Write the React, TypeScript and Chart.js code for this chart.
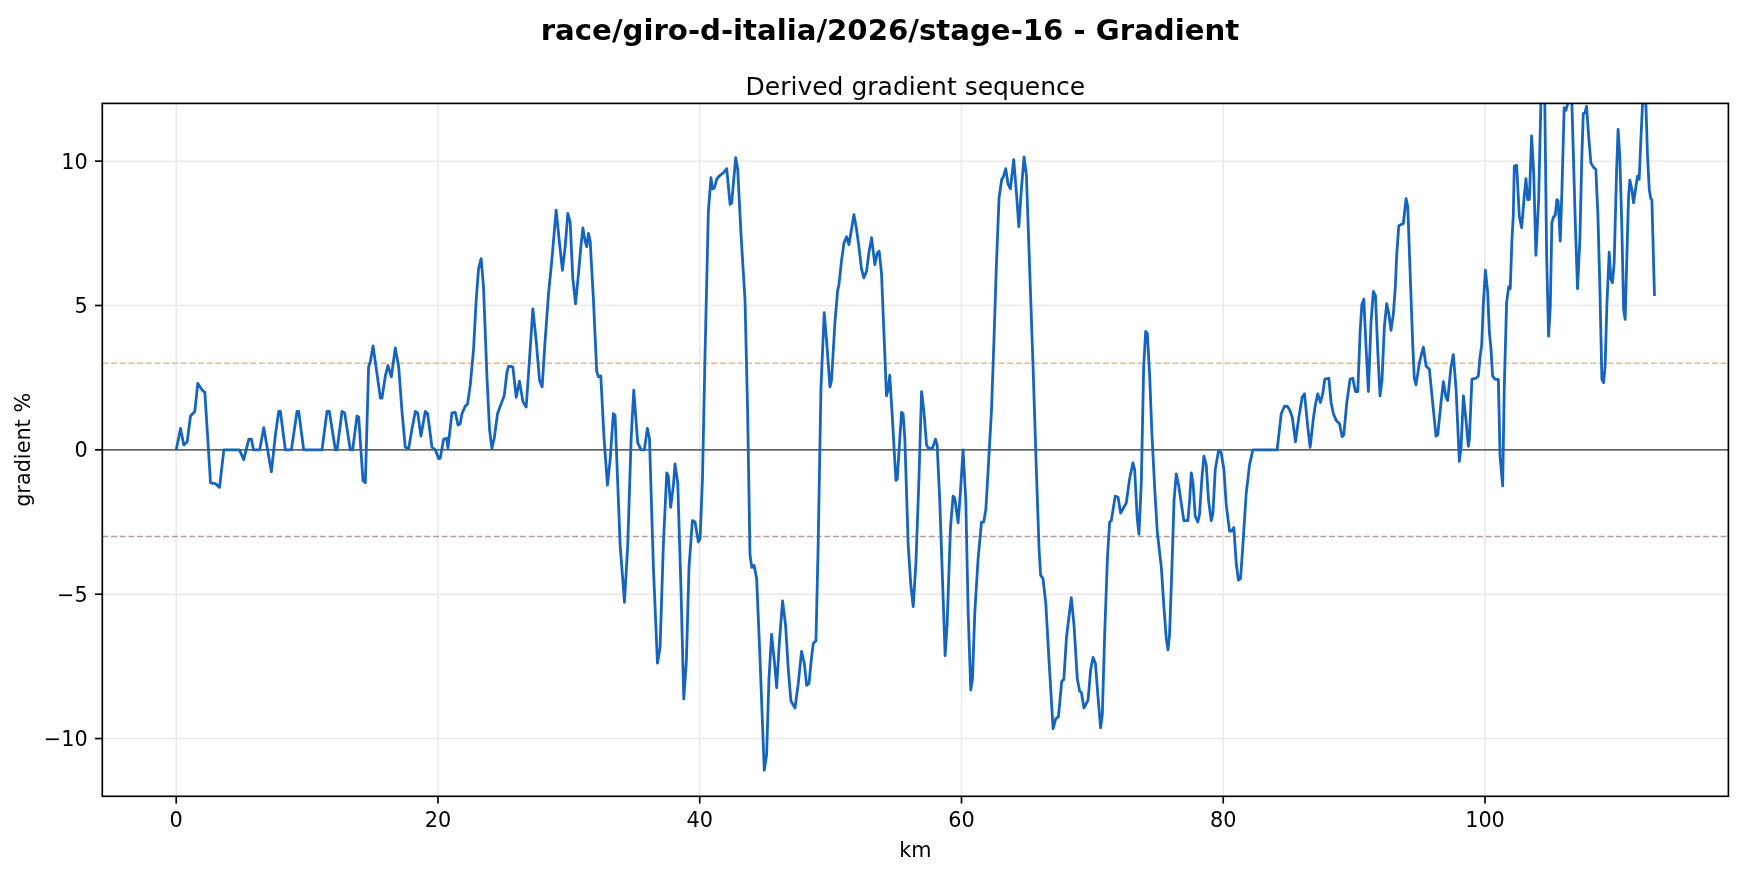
import React, { useEffect, useRef } from "react";
import { Chart, registerables } from "chart.js";

Chart.register(...registerables);

const SUPTITLE = "race/giro-d-italia/2026/stage-16 - Gradient";
const SUBTITLE = "Derived gradient sequence";
const X_LABEL = "km";
const Y_LABEL = "gradient %";

const kmValues = [
  0.0, 0.33, 0.58, 0.84, 1.09, 1.42, 1.65, 1.98, 2.19, 2.62, 3.0, 3.31, 3.64, 4.83, 5.16, 5.55, 5.75, 5.9, 6.38, 6.69,
  7.27, 7.58, 7.83, 7.96, 8.34, 8.8, 9.23, 9.36, 9.74, 11.14, 11.52, 11.7, 12.16, 12.29, 12.67, 12.87, 13.3, 13.48, 13.81, 13.94,
  14.27, 14.45, 14.7, 14.83, 15.04, 15.27, 15.6, 15.72, 15.98, 16.18, 16.44, 16.74, 17.0, 17.25, 17.5, 17.76, 18.01, 18.27, 18.45, 18.7,
  19.03, 19.21, 19.54, 19.8, 20.05, 20.17, 20.43, 20.68, 20.76, 21.07, 21.32, 21.53, 21.7, 21.83, 22.08, 22.26, 22.47, 22.72, 22.92, 23.1,
  23.3, 23.48, 23.74, 23.94, 24.12, 24.3, 24.55, 24.8, 25.06, 25.27, 25.4, 25.72, 25.98, 26.23, 26.49, 26.74, 27.0, 27.25, 27.5, 27.76,
  27.96, 28.19, 28.45, 28.7, 29.03, 29.28, 29.51, 29.72, 29.92, 30.1, 30.3, 30.51, 30.74, 30.92, 31.07, 31.25, 31.37, 31.5, 31.63, 31.88,
  32.13, 32.26, 32.44, 32.69, 32.95, 33.15, 33.4, 33.53, 33.92, 34.25, 34.5, 34.76, 34.96, 35.26, 35.52, 35.77, 36.0, 36.16, 36.46, 36.77,
  36.97, 37.22, 37.48, 37.6, 37.78, 37.99, 38.11, 38.32, 38.57, 38.78, 38.98, 39.18, 39.44, 39.64, 39.9, 40.03, 40.21, 40.4, 40.66, 40.86,
  40.97, 41.12, 41.3, 41.55, 41.73, 41.88, 42.06, 42.32, 42.44, 42.75, 42.9, 43.15, 43.46, 43.66, 43.84, 43.97, 44.15, 44.35, 44.6, 44.93,
  45.11, 45.29, 45.49, 45.7, 45.88, 46.08, 46.33, 46.56, 46.77, 46.97, 47.28, 47.53, 47.78, 47.99, 48.17, 48.35, 48.55, 48.68, 48.88, 49.05,
  49.26, 49.51, 49.69, 49.95, 50.07, 50.33, 50.53, 50.64, 50.84, 51.02, 51.22, 51.4, 51.6, 51.78, 51.98, 52.16, 52.36, 52.54, 52.75, 52.92,
  53.13, 53.38, 53.56, 53.71, 53.89, 54.07, 54.27, 54.4, 54.52, 54.73, 54.99, 55.09, 55.29, 55.42, 55.54, 55.67, 55.93, 56.13, 56.31, 56.52,
  56.75, 56.95, 57.13, 57.33, 57.46, 57.79, 58.01, 58.14, 58.34, 58.6, 58.75, 58.9, 59.16, 59.36, 59.49, 59.74, 59.92, 60.12, 60.33, 60.51,
  60.71, 60.84, 61.02, 61.27, 61.53, 61.7, 61.86, 62.04, 62.29, 62.47, 62.67, 62.87, 63.08, 63.18, 63.38, 63.56, 63.74, 63.99, 64.2, 64.38,
  64.58, 64.78, 64.96, 65.21, 65.47, 65.72, 65.93, 66.05, 66.23, 66.44, 66.69, 67.0, 67.2, 67.41, 67.66, 67.82, 68.02, 68.39, 68.6, 68.85,
  69.03, 69.16, 69.36, 69.54, 69.67, 69.87, 70.05, 70.23, 70.43, 70.63, 70.76, 70.94, 71.15, 71.32, 71.45, 71.58, 71.75, 71.96, 72.16, 72.34,
  72.59, 72.85, 73.1, 73.23, 73.43, 73.56, 73.74, 73.92, 74.07, 74.2, 74.38, 74.55, 74.76, 74.96, 75.27, 75.47, 75.65, 75.78, 75.9, 76.08,
  76.24, 76.41, 76.59, 76.79, 76.99, 77.3, 77.43, 77.56, 77.69, 77.86, 78.06, 78.19, 78.37, 78.52, 78.7, 78.88, 79.08, 79.21, 79.39, 79.64,
  79.84, 80.05, 80.23, 80.48, 80.66, 80.81, 80.99, 81.16, 81.32, 81.5, 81.75, 82.01, 82.26, 84.12, 84.43, 84.68, 84.89, 85.06, 85.27, 85.52,
  85.78, 86.03, 86.21, 86.46, 86.64, 86.9, 87.05, 87.22, 87.43, 87.6, 87.76, 88.07, 88.24, 88.42, 88.63, 88.88, 89.08, 89.21, 89.44, 89.69,
  89.9, 90.1, 90.28, 90.46, 90.59, 90.74, 90.92, 91.09, 91.29, 91.47, 91.63, 91.8, 91.98, 92.13, 92.31, 92.49, 92.64, 92.82, 93.0, 93.15,
  93.25, 93.41, 93.76, 93.97, 94.1, 94.27, 94.48, 94.6, 94.73, 94.99, 95.14, 95.29, 95.5, 95.75, 96.0, 96.26, 96.39, 96.64, 96.82, 97.02,
  97.15, 97.4, 97.58, 97.79, 98.04, 98.17, 98.35, 98.55, 98.73, 98.81, 99.0, 99.31, 99.49, 99.62, 99.75, 99.87, 100.03, 100.2, 100.33, 100.46,
  100.58, 100.76, 101.02, 101.15, 101.35, 101.47, 101.65, 101.81, 101.93, 102.06, 102.16, 102.24, 102.42, 102.62, 102.8, 103.0, 103.13, 103.26, 103.39, 103.56,
  103.72, 103.89, 104.1, 104.27, 104.42, 104.57, 104.71, 104.86, 104.99, 105.11, 105.24, 105.37, 105.49, 105.59, 105.75, 105.88, 106.05, 106.18, 106.3, 106.45,
  106.64, 106.9, 107.07, 107.25, 107.4, 107.51, 107.64, 107.76, 107.92, 108.09, 108.27, 108.47, 108.63, 108.78, 108.93, 109.06, 109.18, 109.31, 109.49, 109.62,
  109.74, 109.87, 110.05, 110.17, 110.3, 110.46, 110.59, 110.71, 110.84, 110.97, 111.07, 111.22, 111.35, 111.52, 111.65, 111.78, 111.91, 112.04, 112.16, 112.29,
  112.42, 112.55, 112.67, 112.75, 112.95,
];

const gradientValues = [
  0, 0.74, 0.17, 0.28, 1.17, 1.33, 2.3, 2.07, 1.99, -1.14, -1.17, -1.3, 0, 0, -0.34, 0.37, 0.37, 0, 0, 0.77,
  -0.76, 0.52, 1.33, 1.33, 0, 0, 1.33, 1.33, 0, 0, 1.33, 1.33, 0, 0, 1.33, 1.28, 0, 0, 1.17, 1.14,
  -1.06, -1.14, 2.87, 3.05, 3.6, 2.87, 1.79, 1.79, 2.56, 2.92, 2.53, 3.53, 2.87, 1.33, 0.09, 0.05, 0.71, 1.33, 1.28, 0.48,
  1.33, 1.25, 0.09, 0, -0.31, -0.29, 0.37, 0.4, 0.06, 1.28, 1.3, 0.86, 0.9, 1.25, 1.51, 1.59, 2.25, 3.49, 5.19, 6.27,
  6.62, 5.65, 2.56, 0.71, 0.05, 0.4, 1.25, 1.56, 1.87, 2.69, 2.9, 2.87, 1.82, 2.38, 1.67, 1.48, 3.18, 4.88, 3.8, 2.41,
  2.18, 3.8, 5.42, 6.57, 8.3, 7.19, 6.22, 7.04, 8.19, 7.89, 5.96, 5.06, 6.11, 7.04, 7.69, 7.22, 7.04, 7.5, 7.22, 5.19,
  2.72, 2.53, 2.56, 0.4, -1.22, -0.37, 1.25, 1.2, -3.3, -5.28, -3.3, 0.4, 2.07, 0.25, 0, 0, 0.74, 0.4, -4.07, -7.39,
  -6.85, -3.3, -0.8, -0.91, -1.99, -1.22, -0.49, -1.14, -4.85, -8.63, -7.31, -4.07, -2.45, -2.5, -3.19, -3.07, -0.99, 3.18, 8.27, 9.43,
  9.04, 9.07, 9.38, 9.51, 9.57, 9.63, 9.74, 8.5, 8.55, 10.12, 9.74, 7.5, 5.19, 1.33, -3.61, -4.07, -4.0, -4.46, -7.16, -11.1,
  -10.56, -7.93, -6.39, -7.31, -8.24, -6.7, -5.23, -6.08, -7.62, -8.7, -8.94, -8.09, -6.98, -7.39, -8.16, -8.09, -7.16, -6.7, -6.62, -3.3,
  2.1, 4.75, 3.8, 2.18, 2.41, 4.41, 5.49, 5.73, 6.57, 7.16, 7.38, 7.11, 7.65, 8.15, 7.65, 7.04, 6.27, 5.96, 6.19, 6.81,
  7.35, 6.42, 6.81, 6.88, 6.11, 4.1, 1.87, 2.1, 2.59, 1.02, -1.06, -1.02, 0.4, 1.3, 1.25, 0.4, -3.3, -4.69, -5.43, -3.92,
  -0.99, 2.02, 1.33, 0.17, 0.06, 0.06, 0.37, 0.17, -1.76, -5.15, -7.13, -6.08, -2.69, -1.6, -1.68, -2.53, -1.45, 0, -1.76, -5.62,
  -8.32, -7.93, -5.62, -3.77, -2.5, -2.5, -2.07, -0.68, 1.33, 3.64, 6.42, 8.73, 9.38, 9.43, 9.74, 9.2, 9.04, 10.05, 8.89, 7.73,
  9.04, 10.15, 9.51, 6.27, 2.87, -0.68, -3.46, -4.35, -4.46, -5.31, -7.31, -9.66, -9.32, -9.24, -8.01, -7.96, -6.5, -5.12, -6.08, -7.93,
  -8.36, -8.4, -8.94, -8.78, -8.67, -7.62, -7.19, -7.39, -8.55, -9.63, -9.17, -6.39, -3.77, -2.5, -2.45, -2.07, -1.6, -1.64, -2.19, -2.04,
  -1.84, -0.99, -0.45, -0.68, -2.38, -2.92, -1.14, 2.87, 4.1, 4.03, 2.56, 0.56, -1.3, -2.84, -4.07, -5.46, -6.54, -6.93, -6.39, -4.07,
  -1.76, -0.83, -1.22, -1.84, -2.45, -2.45, -1.76, -0.8, -1.14, -2.3, -2.5, -2.22, -0.99, -0.22, -0.52, -1.76, -2.45, -2.22, -0.68, -0.03,
  -0.09, -0.68, -1.91, -2.81, -2.81, -2.69, -3.92, -4.51, -4.46, -3.3, -1.53, -0.52, 0, 0, 1.25, 1.51, 1.51, 1.4, 1.14, 0.28,
  1.14, 1.82, 1.94, 0.79, 0.09, 1.14, 1.59, 1.94, 1.64, 1.94, 2.45, 2.48, 1.64, 1.25, 1.02, 0.91, 0.46, 0.51, 1.64, 2.45,
  2.48, 2.02, 2.02, 4.1, 5.03, 5.22, 3.49, 2.02, 4.41, 5.49, 5.34, 3.49, 1.87, 2.41, 4.26, 5.06, 4.75, 4.14, 4.72, 5.65,
  6.73, 7.76, 7.84, 8.7, 8.43, 6.27, 3.64, 2.48, 2.25, 3.02, 3.3, 3.56, 2.9, 2.79, 1.64, 0.48, 0.52, 1.64, 2.36, 1.82,
  1.71, 2.87, 3.3, 2.1, -0.4, 0.09, 1.87, 1.02, 0.12, 0.4, 2.45, 2.48, 2.56, 3.21, 3.64, 5.03, 6.22, 5.49, 4.1, 3.49,
  2.56, 2.45, 2.44, -0.22, -1.25, 2.1, 5.1, 5.65, 5.58, 7.29, 8.1, 9.83, 9.85, 8.1, 7.69, 8.79, 9.39, 8.67, 8.67, 10.87,
  9.6, 6.74, 8.67, 12.0, 12.8, 12.0, 6.71, 3.94, 4.98, 7.87, 8.07, 8.12, 8.67, 8.62, 7.23, 9.02, 11.85, 11.76, 11.96, 12.4,
  12.0, 7.87, 5.58, 7.29, 10.17, 11.65, 11.67, 11.9, 10.87, 9.94, 9.8, 9.71, 8.1, 5.56, 2.45, 2.33, 2.91, 4.98, 6.85, 5.91,
  5.79, 6.48, 9.6, 11.1, 10.17, 7.64, 4.87, 4.52, 6.71, 8.79, 9.34, 9.02, 8.56, 9.08, 9.48, 9.37, 10.75, 12.0, 12.5, 12.0,
  10.17, 9.02, 8.7, 8.67, 5.33,
];

const xTickValues = [0, 20, 40, 60, 80, 100];
const xTickLabels = ["0", "20", "40", "60", "80", "100"];
const yTickValues = [-10, -5, 0, 5, 10];
const yTickLabels = ["\u221210", "\u22125", "0", "5", "10"];
const yLimits = [-12, 12];
const climbThreshold = 3;
const descentThreshold = -3;

const FONT = '"DejaVu Sans", "Liberation Sans", sans-serif';

const overlayPlugin = {
  id: "mplOverlay",
  beforeDatasetsDraw(chart: any) {
    const { ctx, chartArea: a, scales } = chart;
    const xs = scales.x;
    const ys = scales.y;
    ctx.save();
    ctx.strokeStyle = "#e9e9e9";
    ctx.lineWidth = 1.5;
    xTickValues.forEach((v) => {
      const px = xs.getPixelForValue(v);
      ctx.beginPath();
      ctx.moveTo(px, a.top);
      ctx.lineTo(px, a.bottom);
      ctx.stroke();
    });
    yTickValues.forEach((v) => {
      const py = ys.getPixelForValue(v);
      ctx.beginPath();
      ctx.moveTo(a.left, py);
      ctx.lineTo(a.right, py);
      ctx.stroke();
    });
    // reference lines
    const hline = (v: number, color: string, width: number, dash: number[]) => {
      const py = ys.getPixelForValue(v);
      ctx.strokeStyle = color;
      ctx.lineWidth = width;
      ctx.setLineDash(dash);
      ctx.beginPath();
      ctx.moveTo(a.left, py);
      ctx.lineTo(a.right, py);
      ctx.stroke();
    };
    hline(0, "#333333", 1.4, []);
    hline(climbThreshold, "#f5b47a", 1.6, [6, 2.7]);
    hline(descentThreshold, "#b89d97", 1.6, [6, 2.7]);
    ctx.setLineDash([]);
    ctx.restore();
  },
  afterDatasetsDraw(chart: any) {
    const { ctx, chartArea: a, scales } = chart;
    const xs = scales.x;
    const ys = scales.y;
    ctx.save();
    // frame
    ctx.strokeStyle = "#000";
    ctx.lineWidth = 1.67;
    ctx.strokeRect(a.left, a.top, a.right - a.left, a.bottom - a.top);
    // ticks
    const tickLen = 7.3;
    const pad = 7.3;
    ctx.fillStyle = "#000";
    ctx.font = `20.8px ${FONT}`;
    xTickValues.forEach((v, i) => {
      const px = xs.getPixelForValue(v);
      ctx.beginPath();
      ctx.moveTo(px, a.bottom);
      ctx.lineTo(px, a.bottom + tickLen);
      ctx.stroke();
      ctx.textAlign = "center";
      ctx.textBaseline = "alphabetic";
      ctx.fillText(xTickLabels[i], px, a.bottom + tickLen + pad + 15.8);
    });
    yTickValues.forEach((v, i) => {
      const py = ys.getPixelForValue(v);
      ctx.beginPath();
      ctx.moveTo(a.left, py);
      ctx.lineTo(a.left - tickLen, py);
      ctx.stroke();
      ctx.textAlign = "right";
      ctx.textBaseline = "alphabetic";
      ctx.fillText(yTickLabels[i], a.left - tickLen - pad, py + 7.6);
    });
    // axis labels
    const cx = (a.left + a.right) / 2;
    const cy = (a.top + a.bottom) / 2;
    ctx.textAlign = "center";
    ctx.textBaseline = "alphabetic";
    ctx.fillText(X_LABEL, cx, 857);
    ctx.save();
    ctx.translate(30, cy);
    ctx.rotate(-Math.PI / 2);
    ctx.fillText(Y_LABEL, 0, 0);
    ctx.restore();
    // titles
    ctx.font = `25px ${FONT}`;
    ctx.fillText(SUBTITLE, cx, 95);
    ctx.font = `bold 29.2px ${FONT}`;
    ctx.fillText(SUPTITLE, 890, 39.5);
    ctx.restore();
  },
};

export default function App() {
  const canvasRef = useRef<HTMLCanvasElement | null>(null);

  useEffect(() => {
    document.body.style.margin = "0";
    const canvas = canvasRef.current;
    if (!canvas) return;
    const points = kmValues.map((k, i) => ({ x: k, y: gradientValues[i] }));
    const xMargin = (kmValues[kmValues.length - 1] - kmValues[0]) * 0.05;
    const chart = new Chart(canvas, {
      type: "line",
      data: {
        datasets: [
          {
            label: "gradient",
            data: points,
            borderColor: "#1565c0",
            backgroundColor: "#1565c0",
            borderWidth: 2.8,
            pointRadius: 0,
            tension: 0,
            fill: false,
            borderJoinStyle: "round",
            clip: 0,
          } as any,
        ],
      },
      options: {
        responsive: false,
        animation: false,
        devicePixelRatio: 1,
        parsing: false,
        normalized: true,
        layout: {
          padding: { left: 102.3, right: 15.6, top: 103.4, bottom: 78.7 },
        },
        plugins: {
          legend: { display: false },
          tooltip: { enabled: false },
          title: { display: false },
        },
        scales: {
          x: {
            type: "linear",
            display: false,
            min: kmValues[0] - xMargin,
            max: kmValues[kmValues.length - 1] + xMargin,
          },
          y: {
            type: "linear",
            display: false,
            min: yLimits[0],
            max: yLimits[1],
          },
        },
      } as any,
      plugins: [overlayPlugin],
    });
    return () => chart.destroy();
  }, []);

  return (
    <div style={{ width: 1744, height: 875, background: "#fff" }}>
      <canvas ref={canvasRef} width={1744} height={875} style={{ display: "block" }} />
    </div>
  );
}
